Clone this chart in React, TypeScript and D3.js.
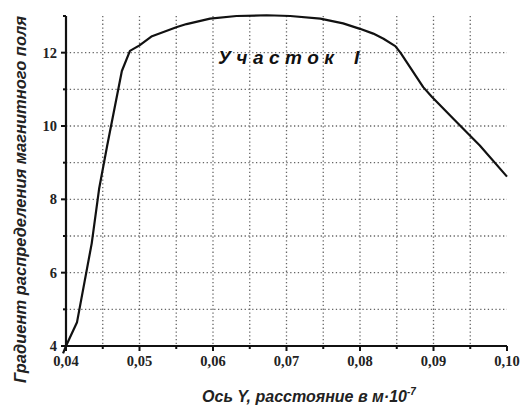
import * as d3 from 'd3';

const curveX = [
  0.0396, 0.04, 0.0415, 0.0435, 0.0445, 0.0456, 0.0476, 0.0487, 0.05, 0.0517, 0.0551, 0.0564,
  0.0596, 0.0632, 0.0673, 0.0705, 0.0746, 0.0777, 0.08, 0.0818, 0.0832, 0.0848, 0.0855,
  0.0886, 0.0898, 0.0927, 0.0963, 0.1,
];
const curveY = [
  3.8, 4.0, 4.65, 6.8, 8.28, 9.46, 11.5, 12.05, 12.2, 12.45, 12.7, 12.78,
  12.93, 13.0, 13.02, 13.0, 12.93, 12.8, 12.65, 12.52, 12.38, 12.18, 12.0,
  11.06, 10.79, 10.2, 9.47, 8.62,
];
const xMajor = [0.04, 0.05, 0.06, 0.07, 0.08, 0.09, 0.1];
const xMinor = [0.045, 0.055, 0.065, 0.075, 0.085, 0.095];
const yMajor = [4, 6, 8, 10, 12];
const yMinor = [5, 7, 9, 11, 13];
const xGrid = [0.045, 0.05, 0.055, 0.06, 0.065, 0.07, 0.075, 0.08, 0.085, 0.09, 0.095];
const yGrid = [5, 6, 7, 8, 9, 10, 11, 12];

const fmtX = (v: number) => v.toFixed(2).replace('.', ',');

export default function App() {
  const width = 523;
  const height = 405;
  const margin = { top: 16, right: 16, bottom: 59, left: 66 };
  const x = d3.scaleLinear().domain([0.04, 0.1]).range([margin.left, width - margin.right]);
  const y = d3.scaleLinear().domain([4, 13]).range([height - margin.bottom, margin.top]);
  const pts = curveX.map((v, i) => [v, curveY[i]] as [number, number]);
  const line = d3.line<[number, number]>().x((d) => x(d[0])).y((d) => y(d[1]));
  const x0 = x(0.04);
  const y0 = y(4);

  return (
    <svg width={width} height={height} style={{ position: 'absolute', left: 0, top: 0, background: '#fff' }}>
      <rect width={width} height={height} fill="#fff" />
      {xGrid.map((v) => (
        <line key={'gx' + v} x1={x(v)} x2={x(v)} y1={y(13)} y2={y0} stroke="#666" strokeWidth={1.3} strokeDasharray="1.3 2.5" />
      ))}
      {yGrid.map((v) => (
        <line key={'gy' + v} x1={x0} x2={x(0.1)} y1={y(v)} y2={y(v)} stroke="#666" strokeWidth={1.3} strokeDasharray="1.3 2.5" />
      ))}
      <path d={line(pts) ?? ''} fill="none" stroke="#111" strokeWidth={2.2} strokeLinejoin="round" />
      <line x1={x0} x2={x(0.1)} y1={y0} y2={y0} stroke="#111" strokeWidth={2.2} />
      <line x1={x0} x2={x0} y1={y(13)} y2={y0} stroke="#111" strokeWidth={2.2} />
      {xMajor.map((v) => (
        <g key={'xm' + v}>
          <line x1={x(v)} x2={x(v)} y1={y0} y2={y0 + 5} stroke="#111" strokeWidth={2} />
          <text x={x(v)} y={y0 + 20} textAnchor="middle" fontFamily="'Liberation Serif', 'Times New Roman', serif" fontWeight="bold" fontSize={14.5} fill="#222">
            {fmtX(v)}
          </text>
        </g>
      ))}
      {xMinor.map((v) => (
        <line key={'xn' + v} x1={x(v)} x2={x(v)} y1={y0} y2={y0 + 3} stroke="#111" strokeWidth={2} />
      ))}
      {yMajor.map((v) => (
        <g key={'ym' + v}>
          <line x1={x0 - 5} x2={x0} y1={y(v)} y2={y(v)} stroke="#111" strokeWidth={2} />
          <text x={x0 - 9} y={y(v) + 5} textAnchor="end" fontFamily="'Liberation Serif', 'Times New Roman', serif" fontWeight="bold" fontSize={14.5} fill="#222">
            {v}
          </text>
        </g>
      ))}
      {yMinor.map((v) => (
        <line key={'yn' + v} x1={x0 - 3} x2={x0} y1={y(v)} y2={y(v)} stroke="#111" strokeWidth={2} />
      ))}
      <text x={218} y={64} fontFamily="'Liberation Sans', Arial, sans-serif" fontWeight="bold" fontStyle="italic" fontSize={19} letterSpacing={5.5} fill="#111">
        Участок
      </text>
      <text x={354} y={64} fontFamily="'Liberation Sans', Arial, sans-serif" fontWeight="bold" fontStyle="italic" fontSize={19} fill="#111">
        I
      </text>
      <text
        transform={`translate(26,${(14 + 385) / 2}) rotate(-90)`}
        textAnchor="middle"
        fontFamily="'Liberation Sans', Arial, sans-serif"
        fontWeight="bold"
        fontStyle="italic"
        fontSize={16.5}
        fill="#222"
      >
        Градиент распределения магнитного поля
      </text>
      <text x={309} y={402} textAnchor="middle" fontFamily="'Liberation Sans', Arial, sans-serif" fontWeight="bold" fontStyle="italic" fontSize={16} fill="#222">
        Ось Y, расстояние в м·10
        <tspan dy={-7} fontSize={10}>-7</tspan>
      </text>
    </svg>
  );
}
